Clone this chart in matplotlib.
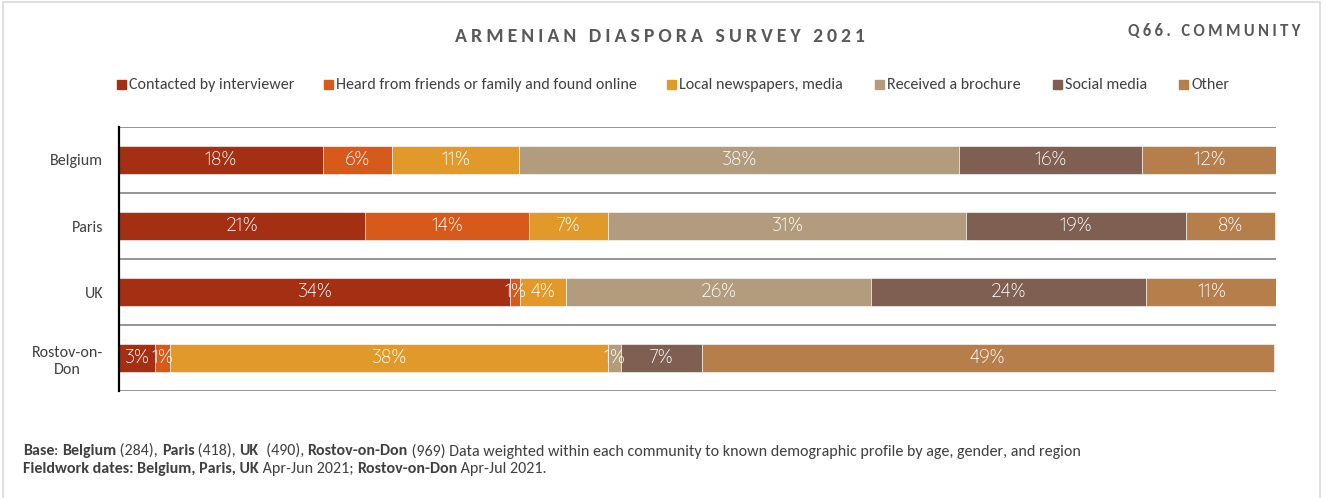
import matplotlib
matplotlib.use('Agg')
import matplotlib.pyplot as plt
from matplotlib.patches import Rectangle

communities = ['Belgium', 'Paris', 'UK', 'Rostov-on-\nDon']
series = ['Contacted by interviewer', 'Heard from friends or family and found online',
          'Local newspapers, media', 'Received a brochure', 'Social media', 'Other']
colors = ['#A52F12', '#D75A1B', '#E19A29', '#B39C7D', '#7E5F52', '#B67E4B']

contacted = [17.6, 21.3, 33.8, 3.1]
heard = [6.0, 14.1, 0.9, 1.3]
local_media = [11.0, 6.9, 3.9, 37.9]
brochure = [38.0, 30.9, 26.4, 1.1]
social = [15.8, 19.0, 23.8, 7.0]
other = [11.7, 7.7, 11.3, 49.4]
values = [contacted, heard, local_media, brochure, social, other]

plt.rcParams['font.family'] = ['Carlito', 'DejaVu Sans']
label_font = ['Quicksand', 'DejaVu Sans']

W, H = 1326, 498
fig = plt.figure(figsize=(W / 100, H / 100), dpi=100)
# light frame round the whole chart
fig.patches.append(Rectangle((3 / W, -0.1), (1320 - 3) / W, 1.1 - 2 / H, transform=fig.transFigure,
                             fill=False, edgecolor='#d9d9d9', linewidth=1.2))

ax = fig.add_axes([119 / W, 1 - 391 / H, (1276 - 119) / W, (391 - 127) / H])
ypos = range(len(communities))
left = [0] * len(communities)
for name, vals, col in zip(series, values, colors):
    bars = ax.barh(ypos, vals, left=left, height=0.42, color=col, edgecolor='white', linewidth=0.4, label=name)
    for b, v in zip(bars, vals):
        ax.text(b.get_x() + b.get_width() / 2, b.get_y() + b.get_height() / 2, f'{v:.0f}%',
                ha='center', va='center', color='white', fontsize=14, family=label_font, fontweight=300)
    left = [l + v for l, v in zip(left, vals)]

ax.set_xlim(0, 100)
ax.set_ylim(3.5, -0.5)
for yb in [-0.5, 0.5, 1.5, 2.5, 3.5]:
    ax.axhline(yb, color='#8c8c8c', linewidth=1.3, zorder=0)
for s in ['top', 'right', 'bottom']:
    ax.spines[s].set_visible(False)
ax.spines['left'].set_linewidth(1.6)
ax.spines['left'].set_color('black')
ax.set_xticks([])
ax.set_yticks(list(ypos))
ax.set_yticklabels(communities, fontsize=11.5, color='#404040', linespacing=1.35, multialignment='center')
ax.tick_params(axis='y', length=0, pad=11.5)

title = 'ARMENIAN DIASPORA SURVEY 2021'
fig.text(660 / W, 1 - 37 / H, '\u2009'.join(title), ha='center', va='center', fontsize=14.2,
         fontweight='bold', color='#595959')
sub = 'Q66. COMMUNITY'
fig.text(1300 / W, 1 - 31 / H, '\u2009'.join(sub), ha='right', va='center', fontsize=12,
         fontweight='bold', color='#595959')

# legend, placed by hand like the original
leg_x = [117, 324, 667, 875, 1053, 1179]
for x, name, col in zip(leg_x, series, colors):
    fig.patches.append(Rectangle((x / W, 1 - 89 / H), 9 / W, 9 / H, transform=fig.transFigure,
                                 color=col))
    fig.text((x + 12) / W, 1 - 85 / H, name, ha='left', va='center', fontsize=11.5, color='#404040')

fig.canvas.draw()
renderer = fig.canvas.get_renderer()


def rich_line(x, y, parts):
    for s, bold in parts:
        t = fig.text(x, y, s, fontsize=11.5, color='#404040', fontweight='bold' if bold else 'normal',
                     va='center', ha='left')
        x += t.get_window_extent(renderer).width / W


rich_line(23 / W, 1 - 451 / H, [('Base', True), (': ', False), ('Belgium', True), (' (284), ', False),
                                ('Paris', True), (' (418), ', False), ('UK', True), ('  (490), ', False),
                                ('Rostov-on-Don', True),
                                (' (969) Data weighted within each community to known demographic profile by age, gender, and region', False)])
rich_line(23 / W, 1 - 469 / H, [('Fieldwork dates: Belgium, Paris, UK', True), (' Apr-Jun 2021; ', False),
                                ('Rostov-on-Don', True), (' Apr-Jul 2021.', False)])

fig.savefig('out.png', dpi=100)
